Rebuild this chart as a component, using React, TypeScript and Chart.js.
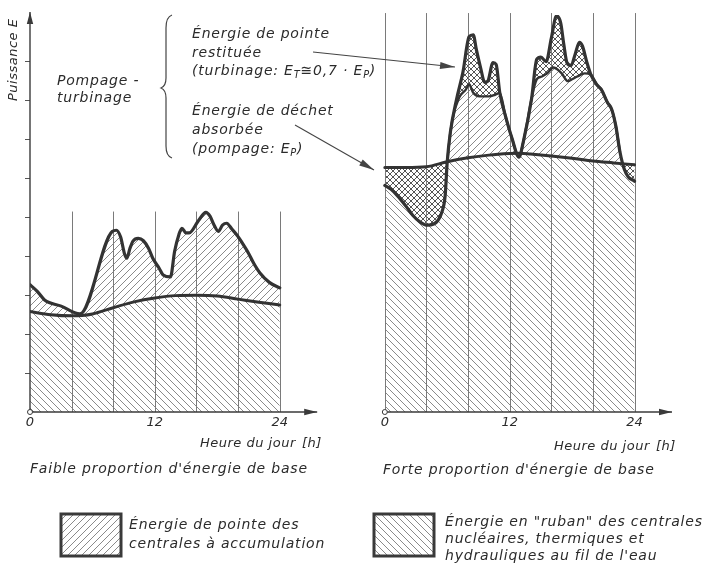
import React, { useEffect, useRef } from 'react';
import { Chart, registerables } from 'chart.js';

Chart.register(...registerables);

// ---------- data (hours, power in axis tick units) ----------
const HOUR_TICKS = [0, 12, 24];
const GRID_HOURS = [0, 4, 8, 12, 16, 20, 24];
const Y_TICKS = [1, 2, 3, 4, 5, 6, 7, 8, 9];
const R_OFFSET = 34.1; // hour offset of right panel on shared x scale
const X_MAX = 61.7;
const Y_MAX = 10.2;
const AXIS_END_H = 27.6;
const LEFT_GRID_TOP = 5.15;
const RIGHT_GRID_TOP = 10.25;

// Left panel: base ("ruban") energy
const L_BASE_H = [0, 2, 4, 5, 6, 8, 10, 12, 14, 16, 18, 20, 22, 24];
const L_BASE_V = [2.58, 2.5, 2.47, 2.48, 2.52, 2.68, 2.83, 2.93, 2.99, 3.0, 2.98, 2.9, 2.82, 2.75];

// Left panel: total demand (peak)
const L_PEAK_H = [0, 0.7, 1.4, 3, 4.8, 7.9, 8.3, 8.7, 9.1, 9.3, 9.6, 9.9, 10.4, 10.9, 11.4, 11.8, 12.4, 12.8, 13.5, 13.9, 14.3, 14.6, 15.0, 15.3, 16.2, 16.9, 17.3, 17.7, 18.1, 18.5, 18.9, 19.4, 19.9, 20.5, 21, 21.5, 22.1, 23, 24];
const L_PEAK_V = [3.27, 3.1, 2.88, 2.72, 2.52, 4.64, 4.67, 4.5, 4.05, 3.95, 4.2, 4.39, 4.46, 4.4, 4.2, 3.95, 3.7, 3.52, 3.47, 4.13, 4.55, 4.72, 4.6, 4.6, 4.92, 5.13, 5.03, 4.8, 4.64, 4.8, 4.85, 4.7, 4.54, 4.3, 4.08, 3.82, 3.57, 3.33, 3.19];

// Right panel: base ("ruban") energy
const R_BASE_H = [0, 2, 4, 6, 8, 10, 12, 13, 14, 16, 18, 20, 22, 24];
const R_BASE_V = [6.28, 6.28, 6.3, 6.43, 6.53, 6.6, 6.64, 6.65, 6.63, 6.58, 6.52, 6.45, 6.4, 6.35];

// Right panel: demand with pumping (below base) and turbining (outer peaks)
const R_DEMAND_H = [0, 0.6, 1.2, 2, 2.7, 3.4, 4.1, 4.7, 5.1, 5.5, 5.8, 6.0, 6.3, 6.9, 7.5, 8.1, 8.5, 8.8, 9.2, 9.6, 9.9, 10.4, 10.7, 11.05, 11.6, 12.2, 12.9, 13.3, 14.1, 14.6, 15.0, 15.5, 16.0, 16.5, 16.9, 17.2, 17.5, 17.9, 18.3, 18.7, 19.0, 19.4, 19.8, 20.4, 20.8, 21.4, 21.8, 22.2, 22.6, 23.0, 23.4, 23.9, 24];
const R_DEMAND_V = [5.82, 5.72, 5.56, 5.3, 5.05, 4.88, 4.8, 4.83, 4.92, 5.15, 5.56, 6.43, 7.19, 8.04, 8.72, 9.64, 9.69, 9.31, 8.85, 8.47, 8.5, 8.98, 8.93, 8.2, 7.6, 7.05, 6.55, 6.93, 8.04, 9.06, 9.12, 9.0, 9.6, 10.18, 10.0, 9.45, 8.98, 8.9, 9.2, 9.5, 9.4, 9.0, 8.67, 8.4, 8.29, 7.95, 7.78, 7.35, 6.68, 6.25, 6.04, 5.95, 5.93];

// Right panel: peak energy of storage plants (bottom of turbined part)
const R_INNER_H = [6.0, 6.3, 6.7, 7.0, 7.2, 7.8, 8.1, 8.5, 9.1, 10.0, 10.6, 11.05, 11.6, 12.2, 12.9, 13.3, 14.1, 14.4, 14.6, 15.1, 15.6, 16.2, 16.6, 17.0, 17.6, 18.0, 18.5, 19.2, 19.8, 20.4, 20.8, 21.4, 21.8, 22.2, 22.6];
const R_INNER_V = [6.43, 7.19, 7.75, 7.98, 8.11, 8.29, 8.42, 8.2, 8.11, 8.11, 8.15, 8.2, 7.6, 7.05, 6.55, 6.93, 8.04, 8.4, 8.55, 8.62, 8.7, 8.85, 8.8, 8.7, 8.5, 8.55, 8.62, 8.7, 8.67, 8.4, 8.29, 7.95, 7.78, 7.35, 6.68];

const X_TICK_VALUES = [...HOUR_TICKS, ...HOUR_TICKS.map((h) => h + R_OFFSET)];
const X_TICK_LABELS = [...HOUR_TICKS, ...HOUR_TICKS].map(String);

const INK = '#333333';
const HATCH = '#8a8a8a';
const FONT = '"DejaVu Sans", sans-serif';

function pts(hs: number[], vs: number[], off: number) {
  return hs.map((h, i) => ({ x: h + off, y: vs[i] }));
}

function makePattern(kind: 'back' | 'fwd' | 'cross', size: number, color: string, width: number) {
  const c = document.createElement('canvas');
  c.width = size;
  c.height = size;
  const g = c.getContext('2d')!;
  g.fillStyle = '#ffffff';
  g.fillRect(0, 0, size, size);
  g.strokeStyle = color;
  g.lineWidth = width;
  const s = size;
  g.beginPath();
  if (kind === 'back' || kind === 'cross') {
    g.moveTo(-1, -1); g.lineTo(s + 1, s + 1);
    g.moveTo(-1, s - 1); g.lineTo(1, s + 1);
    g.moveTo(s - 1, -1); g.lineTo(s + 1, 1);
  }
  if (kind === 'fwd' || kind === 'cross') {
    g.moveTo(-1, s + 1); g.lineTo(s + 1, -1);
    g.moveTo(-1, 1); g.lineTo(1, -1);
    g.moveTo(s - 1, s + 1); g.lineTo(s + 1, s - 1);
  }
  g.stroke();
  return g.createPattern(c, 'repeat')!;
}

function arrowHead(ctx: CanvasRenderingContext2D, x1: number, y1: number, x2: number, y2: number, len: number, half: number) {
  const a = Math.atan2(y2 - y1, x2 - x1);
  const c = Math.cos(a), s = Math.sin(a);
  ctx.beginPath();
  ctx.moveTo(x2, y2);
  ctx.lineTo(x2 - len * c + half * s, y2 - len * s - half * c);
  ctx.lineTo(x2 - len * c - half * s, y2 - len * s + half * c);
  ctx.closePath();
  ctx.fill();
}

function arrowLine(ctx: CanvasRenderingContext2D, x1: number, y1: number, x2: number, y2: number, len: number, half: number, w: number) {
  ctx.lineWidth = w;
  ctx.beginPath();
  ctx.moveTo(x1, y1);
  ctx.lineTo(x2, y2);
  ctx.stroke();
  arrowHead(ctx, x1, y1, x2, y2, len, half);
}

type TxtProps = { x: number; y: number; size?: number; children: React.ReactNode; ls?: number };
function Txt({ x, y, size = 14, children, ls = 0.8 }: TxtProps) {
  return (
    <div
      style={{
        position: 'absolute', left: x, top: y, fontFamily: FONT, fontStyle: 'italic',
        fontSize: size, lineHeight: `${size + 4}px`, color: '#2b2b2b', whiteSpace: 'nowrap',
        letterSpacing: ls,
      }}
    >
      {children}
    </div>
  );
}

const subStyle = { fontSize: '70%', verticalAlign: '-3px' };

export default function App() {
  const ref = useRef<HTMLCanvasElement | null>(null);

  useEffect(() => {
    const canvas = ref.current!;
    const patBack = makePattern('back', 7, HATCH, 1);
    const patFwd = makePattern('fwd', 7, HATCH, 1);
    const patCross = makePattern('cross', 6, '#555555', 1);
    const transparent = 'rgba(0,0,0,0)';

    const lineBase = {
      pointRadius: 0,
      borderColor: INK,
      borderJoinStyle: 'round' as const,
      borderCapStyle: 'round' as const,
      cubicInterpolationMode: 'monotone' as const,
    };

    const decor = {
      id: 'decor',
      beforeDatasetsDraw(chart: any) {
        const { ctx } = chart;
        const xs = chart.scales.x, ys = chart.scales.y;
        ctx.save();
        ctx.strokeStyle = '#7a7a7a';
        ctx.lineWidth = 1;
        for (const h of GRID_HOURS) {
          if (h > 0) {
            const x = Math.round(xs.getPixelForValue(h)) + 0.5;
            ctx.beginPath();
            ctx.moveTo(x, ys.getPixelForValue(0));
            ctx.lineTo(x, ys.getPixelForValue(LEFT_GRID_TOP));
            ctx.stroke();
          }
          const xr = Math.round(xs.getPixelForValue(h + R_OFFSET)) + 0.5;
          ctx.beginPath();
          ctx.moveTo(xr, ys.getPixelForValue(0));
          ctx.lineTo(xr, ys.getPixelForValue(RIGHT_GRID_TOP));
          ctx.stroke();
        }
        ctx.restore();
      },
      afterDatasetsDraw(chart: any) {
        const { ctx } = chart;
        const xs = chart.scales.x, ys = chart.scales.y;
        const y0 = ys.getPixelForValue(0);
        ctx.save();
        ctx.strokeStyle = '#3a3a3a';
        ctx.fillStyle = '#3a3a3a';
        const xL = xs.getPixelForValue(0);
        arrowLine(ctx, xL, y0, xL, ys.getPixelForValue(Y_MAX) - 3, 12, 3.2, 1.4);
        arrowLine(ctx, xL, y0, xs.getPixelForValue(AXIS_END_H), y0, 13, 3.2, 1.4);
        const xR = xs.getPixelForValue(R_OFFSET);
        arrowLine(ctx, xR, y0, xs.getPixelForValue(AXIS_END_H + R_OFFSET), y0, 13, 3.2, 1.4);
        for (const ox of [xL, xR]) {
          ctx.beginPath();
          ctx.arc(ox, y0, 2.5, 0, Math.PI * 2);
          ctx.fillStyle = '#ffffff';
          ctx.fill();
          ctx.lineWidth = 1;
          ctx.stroke();
        }
        ctx.strokeStyle = '#444';
        ctx.fillStyle = '#444';
        arrowLine(ctx, 313, 52, 455, 67, 15, 3.5, 1.1);
        arrowLine(ctx, 295, 125, 374, 170, 15, 3.5, 1.1);
        // brace
        ctx.lineWidth = 1.2;
        ctx.beginPath();
        ctx.moveTo(172, 15);
        ctx.quadraticCurveTo(166, 17, 166, 28);
        ctx.lineTo(166, 78);
        ctx.quadraticCurveTo(166, 86, 161, 88);
        ctx.quadraticCurveTo(166, 90, 166, 98);
        ctx.lineTo(166, 146);
        ctx.quadraticCurveTo(166, 156, 172, 158);
        ctx.stroke();
        ctx.restore();
      },
      afterDraw(chart: any) {
        const { ctx } = chart;
        ctx.save();
        const boxes: [number, number, number, number, CanvasPattern][] = [
          [61, 514, 60, 42, patFwd],
          [374, 514, 60, 42, patBack],
        ];
        for (const [x, y, w, h, p] of boxes) {
          ctx.fillStyle = p;
          ctx.fillRect(x, y, w, h);
          ctx.strokeStyle = '#3a3a3a';
          ctx.lineWidth = 3;
          ctx.strokeRect(x, y, w, h);
        }
        ctx.restore();
      },
    };

    const chart = new Chart(canvas, {
      type: 'line',
      data: {
        datasets: [
          {
            ...lineBase, label: 'L_peak', data: pts(L_PEAK_H, L_PEAK_V, 0), borderWidth: 3.2,
            fill: { target: 1, above: patFwd, below: transparent },
          },
          {
            ...lineBase, label: 'L_base', data: pts(L_BASE_H, L_BASE_V, 0), borderWidth: 3,
            fill: 'origin', backgroundColor: patBack,
          },
          {
            ...lineBase, label: 'R_inner', data: pts(R_INNER_H, R_INNER_V, R_OFFSET), borderWidth: 2.4,
            fill: { target: 4, above: patFwd, below: transparent },
          },
          {
            ...lineBase, label: 'R_demand', data: pts(R_DEMAND_H, R_DEMAND_V, R_OFFSET), borderWidth: 3.2,
            fill: { target: 4, above: patCross, below: patCross },
          },
          {
            ...lineBase, label: 'R_base', data: pts(R_BASE_H, R_BASE_V, R_OFFSET), borderWidth: 3,
            fill: 'origin', backgroundColor: patBack,
          },
        ] as any,
      },
      options: {
        animation: false,
        responsive: false,
        layout: { padding: { left: 25, right: 38, top: 15, bottom: 138.4 } },
        plugins: {
          legend: { display: false }, tooltip: { enabled: false }, title: { display: false },
          filler: { drawTime: 'beforeDatasetsDraw' },
        },
        scales: {
          x: {
            type: 'linear', min: 0, max: X_MAX,
            grid: { display: false, drawTicks: false },
            border: { display: false },
            afterBuildTicks: (s: any) => { s.ticks = X_TICK_VALUES.map((v) => ({ value: v })); },
            ticks: {
              autoSkip: false, maxRotation: 0, padding: 3, color: '#2b2b2b',
              font: { family: FONT, style: 'italic', size: 13 },
              callback: (_v: any, i: number) => X_TICK_LABELS[i],
            },
          },
          y: {
            type: 'linear', min: 0, max: Y_MAX,
            grid: { display: true, drawOnChartArea: false, drawTicks: true, tickLength: 5, color: '#555' },
            border: { display: false },
            afterBuildTicks: (s: any) => { s.ticks = Y_TICKS.map((v) => ({ value: v })); },
            ticks: { display: false },
          },
        },
      } as any,
      plugins: [decor],
    });
    return () => chart.destroy();
  }, []);

  return (
    <div style={{ position: 'absolute', left: 0, top: 0, width: 710, height: 572, background: '#fff', overflow: 'hidden' }}>
      <canvas ref={ref} width={710} height={572} style={{ position: 'absolute', left: 0, top: 0 }} />
      <div
        style={{
          position: 'absolute', left: 4, top: 101, transformOrigin: 'left top', transform: 'rotate(-90deg)',
          fontFamily: FONT, fontStyle: 'italic', fontSize: 13, lineHeight: '17px', color: '#2b2b2b',
          whiteSpace: 'nowrap', letterSpacing: 0.5,
        }}
      >
        Puissance E
      </div>
      <Txt x={57} y={71}>Pompage -</Txt>
      <Txt x={57} y={88}>turbinage</Txt>
      <Txt x={192} y={24}>Énergie de pointe</Txt>
      <Txt x={192} y={43}>restituée</Txt>
      <Txt x={192} y={61}>
        (turbinage: E<sub style={subStyle}>T</sub>≅0,7 · E<sub style={subStyle}>P</sub>)
      </Txt>
      <Txt x={192} y={101}>Énergie de déchet</Txt>
      <Txt x={192} y={120}>absorbée</Txt>
      <Txt x={192} y={139}>
        (pompage: E<sub style={subStyle}>P</sub>)
      </Txt>
      <Txt x={200} y={434} size={13} ls={0.5}>Heure du jour</Txt>
      <Txt x={302} y={434} size={13} ls={0.5}>[h]</Txt>
      <Txt x={554} y={437} size={13} ls={0.5}>Heure du jour</Txt>
      <Txt x={656} y={437} size={13} ls={0.5}>[h]</Txt>
      <Txt x={30} y={459}>Faible proportion d'énergie de base</Txt>
      <Txt x={383} y={460}>Forte proportion d'énergie de base</Txt>
      <Txt x={129} y={515}>Énergie de pointe des</Txt>
      <Txt x={129} y={534}>centrales à accumulation</Txt>
      <Txt x={445} y={512}>Énergie en "ruban" des centrales</Txt>
      <Txt x={445} y={529}>nucléaires, thermiques et</Txt>
      <Txt x={445} y={546}>hydrauliques au fil de l'eau</Txt>
    </div>
  );
}
